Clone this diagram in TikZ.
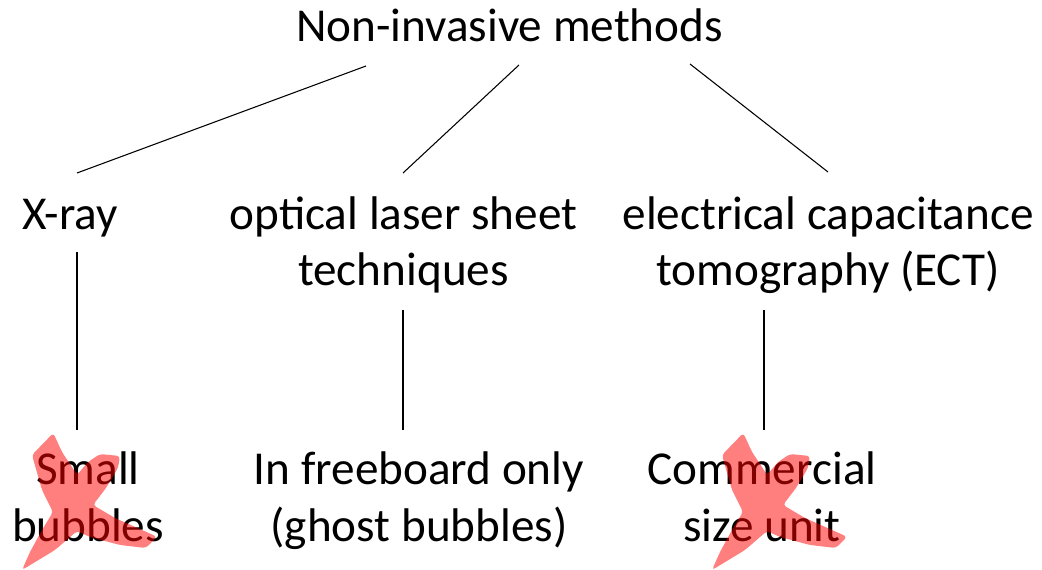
\documentclass[tikz,border=0pt]{standalone}
\usepackage{fontspec}
\setmainfont{Carlito}
\usetikzlibrary{calc}
\begin{document}
\begin{tikzpicture}[x=0.75pt,y=-0.75pt,
  lbl/.style={inner sep=0pt,align=center,anchor=base,font=\fontsize{35.4pt}{42.3pt}\selectfont},
  conn/.style={draw=black,line width=0.8pt},
  xmark/.style={fill=red,fill opacity=0.5,rounded corners=2.5pt}]
\useasboundingbox (0,0) rectangle (1042,570);
% single-line nodes: base = baseline; multi-line nodes: base = last baseline
\node[lbl] (top) at (509.5,42) {Non-invasive methods};
\node[lbl] (xray) at (70,230) {X-ray};
\node[lbl] (opt) at (403.5,286) {optical laser sheet\\techniques};
\node[lbl] (ect) at (828,286) {electrical capacitance\\tomography (ECT)};
\node[lbl] (small) at (88,541) {Small\\bubbles};
\node[lbl] (free) at (419,541) {In freeboard only\\(ghost bubbles)};
\node[lbl] (comm) at (762,541) {Commercial\\size unit};
% connectors
\draw[conn] ($(top.base)+(-143.5,24)$) -- ($(xray.base)+(7,-57)$);
\draw[conn] ($(top.base)+(9.5,23)$) -- ($(opt.base)+(-0.5,-113)$);
\draw[conn] ($(top.base)+(180.5,22)$) -- ($(ect.base)+(0,-114)$);
\draw[conn] ($(xray.base)+(7,22)$) -- ($(small.base)+(-11,-111)$);
\draw[conn] ($(opt.base)+(-0.5,24)$) -- ($(free.base)+(-16,-111)$);
\draw[conn] ($(ect.base)+(-64,24)$) -- ($(comm.base)+(2,-111)$);
% red crosses
\foreach \dx in {0,690}{
\begin{scope}[xshift=\dx*0.75pt]
\fill[xmark] (53.3,433) -- (62,452) -- (72,467) -- (77,475) -- (88,462) -- (100,454)
  -- (120,456) -- (118,468) -- (106,488) -- (93,505) -- (115,518) -- (157,536.7)
  -- (146,548) -- (120,545) -- (90,537) -- (77,531) -- (55,550) -- (22,570)
  -- (30,552) -- (42,530) -- (53,512) -- (42,490) -- (32,455) -- cycle;
\end{scope}}
\end{tikzpicture}
\end{document}
